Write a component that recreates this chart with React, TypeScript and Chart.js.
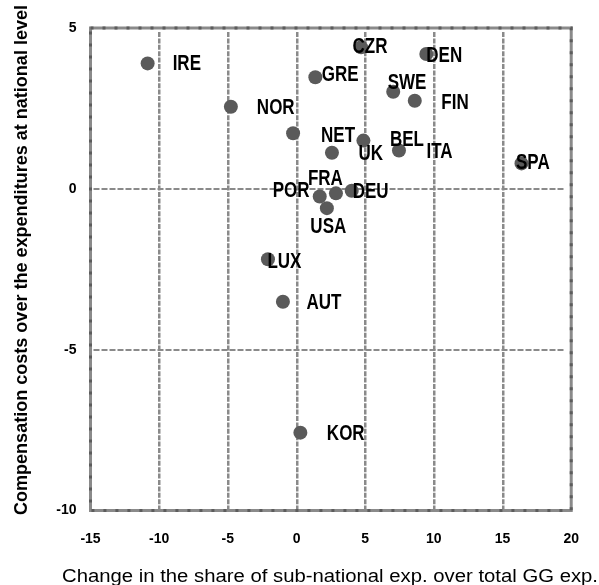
import React, { useEffect, useRef } from "react";
import { Chart, registerables } from "chart.js";

Chart.register(...registerables);

// Country codes and their coordinates
const countries = [
  "IRE", "NOR", "NET", "GRE", "CZR", "DEN", "SWE", "FIN", "UK", "BEL",
  "ITA", "SPA", "POR", "FRA", "DEU", "USA", "LUX", "AUT", "KOR",
];
const shareChange = [
  -10.84, -4.78, -0.25, 1.37, 4.7, 9.45, 7.04, 8.61, 2.58, 4.87,
  7.46, 16.38, 1.69, 2.87, 4.02, 2.21, -2.08, -0.99, 0.28,
];
const compensationRatio = [
  3.9, 2.55, 1.73, 3.47, 4.4, 4.19, 3.02, 2.74, 1.12, 1.5,
  1.19, 0.79, -0.24, -0.14, -0.06, -0.6, -2.19, -3.51, -7.58,
];

const xTickValues = [-15, -10, -5, 0, 5, 10, 15, 20];
const yTickValues = [-10, -5, 0, 5];

const xTitle = "Change in the share of sub-national exp. over total GG exp.";
const yTitle = "Compensation costs over the expenditures at national level";

// Label placement relative to each marker (pixels), hand-tuned to avoid overlaps
const labelOffsets: [number, number][] = [
  [25, 1], [26, 1.5], [28, 2.5], [6.5, -2], [-8.5, 0], [0, 2], [-5.5, -8.5],
  [26.5, 2], [26.5, 1], [26.5, 0], [27.5, 1.5], [-5.5, 0], [-47, -5.5],
  [-28, -14.5], [1, 1], [-16.5, 19], [-0.5, 2.5], [23.5, 1.5], [26.5, 1],
];

const FONT = "'Liberation Sans', Arial, sans-serif";
const GRID = "#8a8a8a";

const decorPlugin = {
  id: "decor",
  beforeDatasetsDraw(chart: any) {
    const { ctx, chartArea: a, scales } = chart;
    const xs = scales.x;
    const ys = scales.y;
    ctx.save();
    // vertical grid lines
    ctx.strokeStyle = GRID;
    ctx.lineWidth = 2.5;
    ctx.setLineDash([5, 1.4]);
    xTickValues.slice(1, -1).forEach((v) => {
      const px = Math.round(xs.getPixelForValue(v)) + 0.25;
      ctx.beginPath();
      ctx.moveTo(px, a.top + 4);
      ctx.lineTo(px, a.bottom);
      ctx.stroke();
    });
    // horizontal grid lines
    ctx.lineWidth = 2;
    ctx.setLineDash([6, 2]);
    yTickValues.slice(1, -1).forEach((v) => {
      const py = Math.round(ys.getPixelForValue(v));
      ctx.beginPath();
      ctx.moveTo(a.left + 3, py);
      ctx.lineTo(a.right - 6, py);
      ctx.stroke();
    });
    // frame
    ctx.setLineDash([]);
    ctx.lineWidth = 3;
    ctx.strokeStyle = GRID;
    ctx.strokeRect(a.left, a.top, a.right - a.left, a.bottom - a.top);
    ctx.strokeStyle = "#5c5c5c";
    ctx.setLineDash([3, 9]);
    ctx.strokeRect(a.left, a.top, a.right - a.left, a.bottom - a.top);
    ctx.restore();
  },
  afterDatasetsDraw(chart: any) {
    const { ctx } = chart;
    const meta = chart.getDatasetMeta(0);
    ctx.save();
    ctx.fillStyle = "#000";
    ctx.font = `bold 17px ${FONT}`;
    ctx.textAlign = "left";
    ctx.textBaseline = "middle";
    meta.data.forEach((pt: any, i: number) => {
      const [dx, dy] = labelOffsets[i];
      ctx.save();
      ctx.translate(pt.x + dx, pt.y + dy);
      ctx.scale(1, 1.25);
      ctx.fillText(countries[i], 0, 0);
      ctx.restore();
    });
    ctx.restore();
  },
  afterDraw(chart: any) {
    const { ctx } = chart;
    ctx.save();
    ctx.fillStyle = "#000";
    // x-axis title
    ctx.font = `18px ${FONT}`;
    ctx.textAlign = "left";
    ctx.textBaseline = "alphabetic";
    const wx = ctx.measureText(xTitle).width;
    ctx.save();
    ctx.translate(62, 582);
    ctx.scale(536 / wx, 1.05);
    ctx.fillText(xTitle, 0, 0);
    ctx.restore();
    // y-axis title
    ctx.font = `bold 14px ${FONT}`;
    const wy = ctx.measureText(yTitle).width;
    ctx.save();
    ctx.translate(26.5, 515);
    ctx.rotate(-Math.PI / 2);
    ctx.scale(510 / wy, 1.25);
    ctx.fillText(yTitle, 0, 0);
    ctx.restore();
    ctx.restore();
  },
};

export default function App() {
  const canvasRef = useRef<HTMLCanvasElement | null>(null);

  useEffect(() => {
    if (!canvasRef.current) return;
    const tickFont = { family: FONT, size: 14, weight: "bold" as const };
    const chart = new Chart(canvasRef.current, {
      type: "scatter",
      data: {
        datasets: [
          {
            data: shareChange.map((x, i) => ({ x, y: compensationRatio[i] })),
            backgroundColor: "#5a5a5a",
            borderWidth: 0,
            pointRadius: 7,
            pointHoverRadius: 7,
          },
        ],
      },
      options: {
        animation: false,
        responsive: false,
        events: [],
        layout: { padding: { top: 28, right: 25, left: 0, bottom: 0 } },
        plugins: { legend: { display: false }, tooltip: { enabled: false } },
        scales: {
          x: {
            type: "linear",
            min: -15,
            max: 20,
            afterBuildTicks: (s: any) => {
              s.ticks = xTickValues.map((value) => ({ value }));
            },
            afterFit: (s: any) => {
              s.height = 74.5;
            },
            grid: { display: false, drawTicks: false },
            border: { display: false },
            ticks: {
              padding: 20,
              color: "#000",
              font: tickFont,
              maxRotation: 0,
              callback: (v: any) => String(v),
            },
          },
          y: {
            type: "linear",
            min: -10,
            max: 5,
            afterBuildTicks: (s: any) => {
              s.ticks = yTickValues.map((value) => ({ value }));
            },
            afterFit: (s: any) => {
              s.width = 90.5;
            },
            grid: { display: false, drawTicks: false },
            border: { display: false },
            ticks: {
              padding: 14,
              color: "#000",
              font: tickFont,
              callback: (v: any) => String(v),
            },
          },
        },
      },
      plugins: [decorPlugin],
    });
    return () => chart.destroy();
  }, []);

  return (
    <div style={{ position: "fixed", left: 0, top: 0, width: 599, height: 585, background: "#fff" }}>
      <canvas ref={canvasRef} width={599} height={585} style={{ display: "block" }} />
    </div>
  );
}
